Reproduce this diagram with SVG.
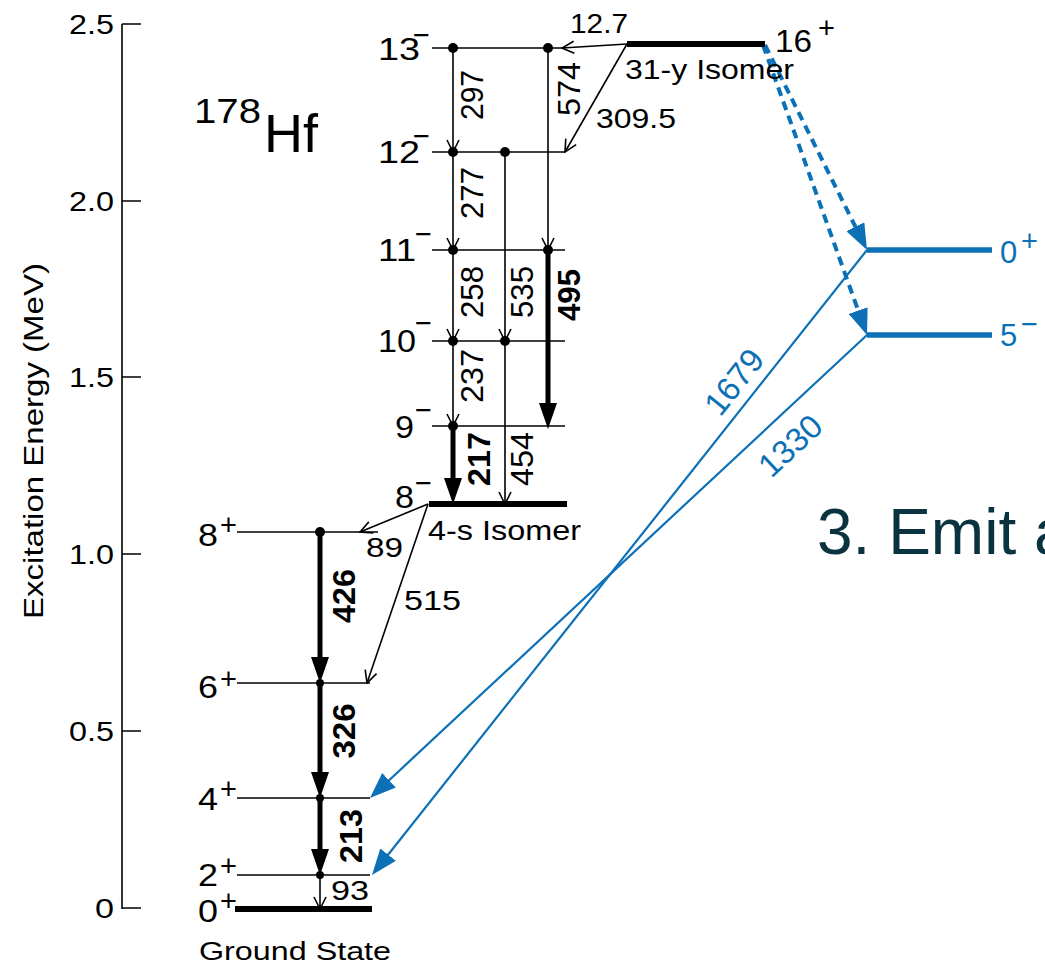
<svg xmlns="http://www.w3.org/2000/svg" width="1045" height="965" viewBox="0 0 1045 965">
  <style>
    text { font-family: "Liberation Sans", Arial, Helvetica, sans-serif; fill: #000; }
    .tick { font-size: 28px; text-anchor: end; }
    .lvl { font-size: 31px; }
    .sup { font-size: 29px; }
    .e { font-size: 28px; }
    .v { font-size: 32px; text-anchor: middle; }
    .b { font-weight: bold; }
    .blue { fill: #0b70b6; }
    .level { stroke: #000; stroke-width: 1.6; fill: none; }
    .iso { stroke: #000; stroke-width: 6; fill: none; }
    .blevel { stroke: #0b70b6; stroke-width: 5.5; fill: none; }
    .thin { stroke: #000; stroke-width: 1.6; fill: none; marker-end: url(#arrowOpen); }
    .bold { stroke: #000; stroke-width: 5; fill: none; marker-end: url(#arrowBold); }
    .bsolid { stroke: #0b70b6; stroke-width: 2.2; fill: none; marker-end: url(#arrowBlue); }
    .bdash { stroke: #0b70b6; stroke-width: 4; stroke-dasharray: 9 6; fill: none; marker-end: url(#arrowBlue); }
    .axis { stroke: #000; stroke-width: 1.6; fill: none; }
  </style>
  <defs>
    <marker id="arrowOpen" viewBox="0 0 14 14" markerWidth="14" markerHeight="14" refX="13" refY="7" orient="auto" markerUnits="userSpaceOnUse">
      <path d="M1,1 L13,7 L1,13" fill="none" stroke="#000" stroke-width="1.6"/>
    </marker>
    <marker id="arrowBold" viewBox="0 0 26 18" markerWidth="26" markerHeight="18" refX="16" refY="9" orient="auto" markerUnits="userSpaceOnUse">
      <path d="M0,0 L26,9 L0,18 Z" fill="#000"/>
    </marker>
    <marker id="arrowBlue" viewBox="0 0 26 20" markerWidth="26" markerHeight="20" refX="16" refY="10" orient="auto" markerUnits="userSpaceOnUse">
      <path d="M0,0 L26,10 L0,20 Z" fill="#0b70b6"/>
    </marker>
  </defs>

  <rect width="1045" height="965" fill="#fff"/>

  <!-- energy axis -->
  <g id="axis">
    <path class="axis" d="M122,24 V909 M122,24 H141 M122,201 H141 M122,377 H141 M122,554 H141 M122,731 H141 M122,908 H141"/>
    <text class="tick" x="114" y="34" textLength="45" lengthAdjust="spacingAndGlyphs">2.5</text>
    <text class="tick" x="114" y="211" textLength="45" lengthAdjust="spacingAndGlyphs">2.0</text>
    <text class="tick" x="114" y="387" textLength="45" lengthAdjust="spacingAndGlyphs">1.5</text>
    <text class="tick" x="114" y="564" textLength="45" lengthAdjust="spacingAndGlyphs">1.0</text>
    <text class="tick" x="114" y="741" textLength="45" lengthAdjust="spacingAndGlyphs">0.5</text>
    <text class="tick" x="114" y="918" textLength="19" lengthAdjust="spacingAndGlyphs">0</text>
    <text transform="translate(43,441) rotate(-90)" font-size="28" text-anchor="middle" textLength="356" lengthAdjust="spacingAndGlyphs">Excitation Energy (MeV)</text>
  </g>

  <!-- nuclide name -->
  <g id="title">
    <text x="194" y="123" font-size="35" textLength="67" lengthAdjust="spacingAndGlyphs">178</text>
    <text x="264" y="152" font-size="54">Hf</text>
  </g>

  <!-- transitions -->
  <g id="connectors">
    <!-- negative-parity band -->
    <line class="thin" x1="453" y1="48" x2="453" y2="152"/>
    <line class="thin" x1="453" y1="152" x2="453" y2="250"/>
    <line class="thin" x1="453" y1="250" x2="453" y2="341"/>
    <line class="thin" x1="453" y1="341" x2="453" y2="426"/>
    <line class="bold" x1="453" y1="426" x2="453" y2="494"/>
    <line class="thin" x1="505" y1="152" x2="505" y2="341"/>
    <line class="thin" x1="505" y1="341" x2="505" y2="504"/>
    <line class="thin" x1="548" y1="48" x2="548" y2="250"/>
    <line class="bold" x1="548" y1="250" x2="548" y2="419"/>
    <!-- 31-y isomer decays -->
    <line class="thin" x1="627" y1="44" x2="562" y2="48"/>
    <line class="thin" x1="627" y1="44" x2="565" y2="152"/>
    <!-- 4-s isomer decays -->
    <line class="thin" x1="428" y1="504" x2="360" y2="532"/>
    <line class="thin" x1="428" y1="504" x2="367" y2="683"/>
    <!-- ground-state band -->
    <line class="bold" x1="320" y1="532" x2="320" y2="673"/>
    <line class="bold" x1="320" y1="683" x2="320" y2="788"/>
    <line class="bold" x1="320" y1="798" x2="320" y2="865"/>
    <line class="thin" x1="320" y1="875" x2="320" y2="909"/>
    <!-- induced depletion path -->
    <line class="bdash" x1="765" y1="45" x2="862.5" y2="241"/>
    <line class="bdash" x1="763" y1="45" x2="863.6" y2="325.6"/>
    <line class="bsolid" x1="867" y1="250" x2="378.2" y2="867.2"/>
    <line class="bsolid" x1="867" y1="335" x2="377.3" y2="791.2"/>

    <!-- gamma energies -->
    <text class="v" transform="translate(483,95) rotate(-90)" textLength="50" lengthAdjust="spacingAndGlyphs">297</text>
    <text class="v" transform="translate(580,89) rotate(-90)" textLength="54" lengthAdjust="spacingAndGlyphs">574</text>
    <text class="v" transform="translate(483,193) rotate(-90)" textLength="52" lengthAdjust="spacingAndGlyphs">277</text>
    <text class="v" transform="translate(483,292) rotate(-90)" textLength="52" lengthAdjust="spacingAndGlyphs">258</text>
    <text class="v" transform="translate(533,292) rotate(-90)" textLength="52" lengthAdjust="spacingAndGlyphs">535</text>
    <text class="v b" transform="translate(580,295) rotate(-90)" textLength="52" lengthAdjust="spacingAndGlyphs">495</text>
    <text class="v" transform="translate(483,376) rotate(-90)" textLength="54" lengthAdjust="spacingAndGlyphs">237</text>
    <text class="v b" transform="translate(490,459) rotate(-90)" textLength="54" lengthAdjust="spacingAndGlyphs">217</text>
    <text class="v" transform="translate(533,459) rotate(-90)" textLength="54" lengthAdjust="spacingAndGlyphs">454</text>
    <text class="v b" transform="translate(355,596) rotate(-90)" textLength="54" lengthAdjust="spacingAndGlyphs">426</text>
    <text class="v b" transform="translate(355,731) rotate(-90)" textLength="55" lengthAdjust="spacingAndGlyphs">326</text>
    <text class="v b" transform="translate(362,836) rotate(-90)" textLength="54" lengthAdjust="spacingAndGlyphs">213</text>
    <text class="e" x="570" y="33" textLength="58" lengthAdjust="spacingAndGlyphs">12.7</text>
    <text class="e" x="596" y="128" textLength="80" lengthAdjust="spacingAndGlyphs">309.5</text>
    <text class="e" x="366" y="557" textLength="37" lengthAdjust="spacingAndGlyphs">89</text>
    <text class="e" x="404" y="610" textLength="57" lengthAdjust="spacingAndGlyphs">515</text>
    <text class="e" x="331" y="900" textLength="38" lengthAdjust="spacingAndGlyphs">93</text>
    <text class="blue" transform="translate(743,389) rotate(-51.6)" font-size="33" text-anchor="middle">1679</text>
    <text class="blue" transform="translate(798,454) rotate(-43)" font-size="33" text-anchor="middle">1330</text>
  </g>

  <!-- 16+ isomer -->
  <g id="level-16p">
    <line class="iso" x1="627" y1="44" x2="765" y2="44"/>
    <text class="lvl" x="775" y="52" textLength="37" lengthAdjust="spacingAndGlyphs">16</text>
    <text class="sup" x="818" y="38">+</text>
    <text class="e" x="625" y="79" textLength="169" lengthAdjust="spacingAndGlyphs">31-y Isomer</text>
  </g>

  <!-- negative-parity band levels -->
  <g id="level-13m">
    <line class="level" x1="432" y1="48" x2="565" y2="48"/>
    <circle cx="453" cy="48" r="5"/>
    <circle cx="548" cy="48" r="5"/>
    <text class="lvl" x="378" y="60" textLength="42" lengthAdjust="spacingAndGlyphs">13</text>
    <text class="sup" x="413" y="45">−</text>
  </g>
  <g id="level-12m">
    <line class="level" x1="432" y1="152" x2="565" y2="152"/>
    <circle cx="453" cy="152" r="5"/>
    <circle cx="505" cy="152" r="5"/>
    <text class="lvl" x="378" y="163" textLength="42" lengthAdjust="spacingAndGlyphs">12</text>
    <text class="sup" x="413" y="146">−</text>
  </g>
  <g id="level-11m">
    <line class="level" x1="432" y1="250" x2="565" y2="250"/>
    <circle cx="453" cy="250" r="5"/>
    <circle cx="548" cy="250" r="5"/>
    <text class="lvl" x="378" y="261" textLength="38" lengthAdjust="spacingAndGlyphs">11</text>
    <text class="sup" x="415" y="244">−</text>
  </g>
  <g id="level-10m">
    <line class="level" x1="432" y1="341" x2="565" y2="341"/>
    <circle cx="453" cy="341" r="5"/>
    <circle cx="505" cy="341" r="5"/>
    <text class="lvl" x="378" y="352" textLength="38" lengthAdjust="spacingAndGlyphs">10</text>
    <text class="sup" x="415" y="333">−</text>
  </g>
  <g id="level-9m">
    <line class="level" x1="432" y1="426" x2="565" y2="426"/>
    <circle cx="453" cy="426" r="5"/>
    <text class="lvl" x="395" y="438" textLength="19" lengthAdjust="spacingAndGlyphs">9</text>
    <text class="sup" x="415" y="420">−</text>
  </g>
  <g id="level-8m">
    <line class="iso" x1="429" y1="504" x2="567" y2="504"/>
    <text class="lvl" x="395" y="508" textLength="19" lengthAdjust="spacingAndGlyphs">8</text>
    <text class="sup" x="415" y="493">−</text>
    <text class="e" x="428" y="540" textLength="153" lengthAdjust="spacingAndGlyphs">4-s Isomer</text>
  </g>

  <!-- ground-state band levels -->
  <g id="level-8p">
    <line class="level" x1="237" y1="532" x2="378" y2="532"/>
    <circle cx="320" cy="532" r="5"/>
    <text class="lvl" x="198" y="546" textLength="20" lengthAdjust="spacingAndGlyphs">8</text>
    <text class="sup" x="220" y="535">+</text>
  </g>
  <g id="level-6p">
    <line class="level" x1="237" y1="683" x2="370" y2="683"/>
    <circle cx="320" cy="683" r="4"/>
    <text class="lvl" x="198" y="698" textLength="20" lengthAdjust="spacingAndGlyphs">6</text>
    <text class="sup" x="220" y="689">+</text>
  </g>
  <g id="level-4p">
    <line class="level" x1="237" y1="798" x2="370" y2="798"/>
    <circle cx="320" cy="798" r="4"/>
    <text class="lvl" x="198" y="810" textLength="20" lengthAdjust="spacingAndGlyphs">4</text>
    <text class="sup" x="220" y="799">+</text>
  </g>
  <g id="level-2p">
    <line class="level" x1="237" y1="875" x2="370" y2="875"/>
    <circle cx="320" cy="875" r="4"/>
    <text class="lvl" x="198" y="886" textLength="20" lengthAdjust="spacingAndGlyphs">2</text>
    <text class="sup" x="220" y="876">+</text>
  </g>
  <g id="level-0p">
    <line class="iso" x1="235" y1="909" x2="372" y2="909"/>
    <text class="lvl" x="198" y="922" textLength="20" lengthAdjust="spacingAndGlyphs">0</text>
    <text class="sup" x="220" y="911">+</text>
    <text x="199" y="960" font-size="26" textLength="192" lengthAdjust="spacingAndGlyphs">Ground State</text>
  </g>

  <!-- intermediate states -->
  <g id="level-0p-mid">
    <line class="blevel" x1="867" y1="250" x2="992" y2="250"/>
    <text class="lvl blue" x="1000" y="263">0</text>
    <text class="sup blue" x="1021" y="251">+</text>
  </g>
  <g id="level-5m-mid">
    <line class="blevel" x1="867" y1="335" x2="992" y2="335"/>
    <text class="lvl blue" x="1000" y="346">5</text>
    <text class="sup blue" x="1021" y="334">−</text>
  </g>

  <!-- step caption, running off the right edge -->
  <g id="caption">
    <text x="817" y="554" font-size="64" style="fill:#0a3340">3. Emit a</text>
  </g>
</svg>
